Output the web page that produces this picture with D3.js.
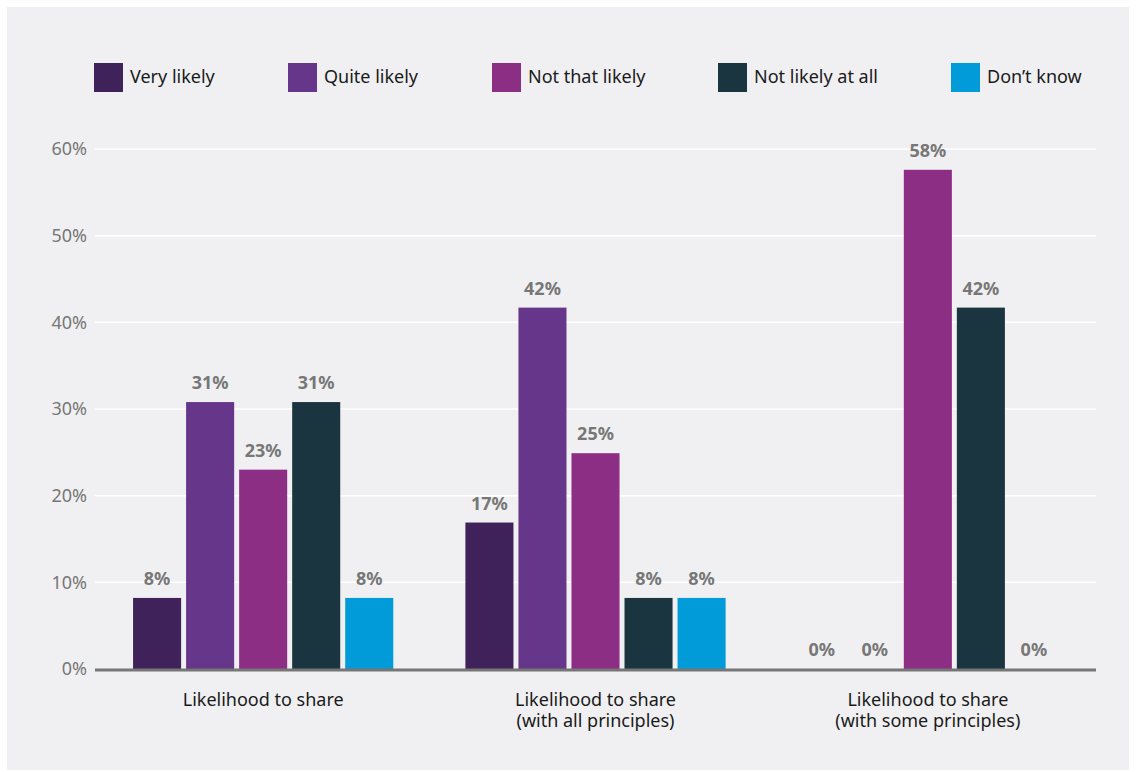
<!DOCTYPE html>
<html>
<head>
<meta charset="utf-8">
<script src="https://cdn.jsdelivr.net/npm/d3@7"></script>
<style>
  html, body { margin: 0; padding: 0; background: #ffffff; }
  svg { display: block; }
  text { font-family: "Source Sans Pro", "Noto Sans", "Open Sans", sans-serif; }
</style>
</head>
<body>
<svg id="chart" width="1136" height="772"></svg>
<script>
// ---- Data ----
const categories = [
  ["Likelihood to share"],
  ["Likelihood to share", "(with all principles)"],
  ["Likelihood to share", "(with some principles)"]
];
const seriesNames = ["Very likely", "Quite likely", "Not that likely", "Not likely at all", "Don\u2019t know"];
const seriesColors = ["#3f2259", "#66368b", "#8d2e85", "#1a3540", "#009bd8"];
const valuesShare = [8.2, 30.8, 23.0, 30.8, 8.2];
const valuesAll = [16.9, 41.7, 24.9, 8.2, 8.2];
const valuesSome = [0, 0, 57.6, 41.7, 0];
const valueLabelsShare = ["8%", "31%", "23%", "31%", "8%"];
const valueLabelsAll = ["17%", "42%", "25%", "8%", "8%"];
const valueLabelsSome = ["0%", "0%", "58%", "42%", "0%"];
const yTicks = [0, 10, 20, 30, 40, 50, 60];

const groups = [
  { cat: categories[0], values: valuesShare, labels: valueLabelsShare },
  { cat: categories[1], values: valuesAll, labels: valueLabelsAll },
  { cat: categories[2], values: valuesSome, labels: valueLabelsSome }
];

// ---- Layout ----
const svg = d3.select("#chart");
svg.append("rect").attr("x", 7).attr("y", 7).attr("width", 1122).attr("height", 763).attr("fill", "#f0f0f2");

const mLeft = 95, mRight = 1096, mTop = 149, mBottom = 669;

const x0 = d3.scaleBand().domain(d3.range(groups.length)).range([mLeft + 2, mRight - 2]).paddingInner(0).paddingOuter(0);
const x1 = d3.scaleBand().domain(d3.range(seriesNames.length)).range([0, x0.bandwidth()]).paddingInner(0.094).paddingOuter(0.68);
const y = d3.scaleLinear().domain([0, 60]).range([mBottom, mTop]);

// gridlines
svg.append("g").selectAll("line").data(yTicks.filter(t => t > 0)).join("line")
  .attr("x1", mLeft).attr("x2", mRight)
  .attr("y1", d => y(d)).attr("y2", d => y(d))
  .attr("stroke", "#ffffff").attr("stroke-width", 1.5);

// y axis labels
const yAxis = d3.axisLeft(y).tickValues(yTicks).tickFormat(d => d + "%").tickSize(0).tickPadding(8);
const yg = svg.append("g").attr("transform", `translate(${mLeft},0)`).call(yAxis);
yg.select(".domain").remove();
yg.selectAll("text").attr("fill", "#777777").style("font-size", "18px")
  .style("font-family", "'Source Sans Pro','Noto Sans','Open Sans',sans-serif");

// bars
const gGroups = svg.append("g").selectAll("g").data(groups).join("g")
  .attr("transform", (d, i) => `translate(${x0(i)},0)`);

gGroups.selectAll("rect").data(d => d.values).join("rect")
  .attr("x", (d, i) => x1(i))
  .attr("width", x1.bandwidth())
  .attr("y", d => y(d))
  .attr("height", d => y(0) - y(d))
  .attr("fill", (d, i) => seriesColors[i]);

gGroups.selectAll("text.val").data(d => d.values.map((v, i) => ({ v, l: d.labels[i], i }))).join("text")
  .attr("class", "val")
  .attr("x", d => x1(d.i) + x1.bandwidth() / 2)
  .attr("y", d => y(d.v) - 13)
  .attr("text-anchor", "middle")
  .attr("fill", "#777777")
  .style("font-size", "18px")
  .style("font-weight", "bold")
  .text(d => d.l);

// baseline
svg.append("line").attr("x1", mLeft).attr("x2", mRight).attr("y1", y(0) + 1).attr("y2", y(0) + 1)
  .attr("stroke", "#767676").attr("stroke-width", 3);

// category labels
const xAxis = d3.axisBottom(x0).tickSize(0).tickFormat(() => "");
const xg = svg.append("g").attr("transform", `translate(0,${mBottom})`).call(xAxis);
xg.select(".domain").remove();
xg.selectAll(".tick").each(function (d) {
  const t = d3.select(this).append("text")
    .attr("text-anchor", "middle")
    .attr("fill", "#1a1a1a")
    .style("font-size", "18px");
  groups[d].cat.forEach((line, k) => {
    t.append("tspan").attr("x", 0).attr("y", 37 + k * 21).text(line);
  });
});

// legend
const legendX = [94, 288, 492, 718, 951];
const lg = svg.append("g").selectAll("g").data(seriesNames).join("g")
  .attr("transform", (d, i) => `translate(${legendX[i]},63)`);
lg.append("rect").attr("width", 29).attr("height", 29).attr("fill", (d, i) => seriesColors[i]);
lg.append("text").attr("x", 36).attr("y", 20).attr("fill", "#1a1a1a").style("font-size", "18px").text(d => d);
</script>
</body>
</html>
